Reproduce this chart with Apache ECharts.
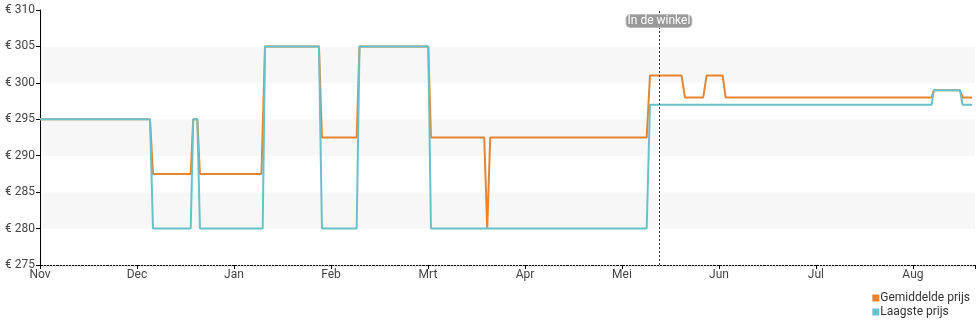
<!DOCTYPE html>
<html>
<head>
<meta charset="utf-8">
<script src="https://cdn.jsdelivr.net/npm/echarts@6/dist/echarts.min.js"></script>
<style>
  html, body { margin: 0; padding: 0; background: #fff; }
  #chart { width: 980px; height: 325px; }
</style>
</head>
<body>
<div id="chart"></div>
<script>
// x = months since 1 Nov (each month drawn the same width)
var months = ["Nov", "Dec", "Jan", "Feb", "Mrt", "Apr", "Mei", "Jun", "Jul", "Aug"];

var gemX = [0, 1.134, 1.165, 1.554, 1.580, 1.622, 1.649, 2.283, 2.320, 2.876, 2.907, 3.265, 3.294, 4.003, 4.031,
  4.580, 4.611, 4.642, 6.255, 6.289, 6.615, 6.649, 6.838, 6.873, 7.038, 7.069, 9.193, 9.216, 9.485, 9.512, 9.611];
var gemY = [295, 295, 287.5, 287.5, 295, 295, 287.5, 287.5, 305, 305, 292.5, 292.5, 305, 305, 292.5,
  292.5, 280, 292.5, 292.5, 301, 301, 298, 298, 301, 301, 298, 298, 299, 299, 298, 298];

var laagX = [0, 1.134, 1.165, 1.554, 1.580, 1.622, 1.649, 2.296, 2.320, 2.876, 2.907, 3.265, 3.294, 4.003, 4.031,
  6.255, 6.289, 9.193, 9.216, 9.485, 9.512, 9.611];
var laagY = [295, 295, 280, 280, 295, 295, 280, 280, 305, 305, 280, 280, 305, 305, 280,
  280, 297, 297, 299, 299, 297, 297];

var winkelX = 6.381;

function zip(xs, ys) {
  return xs.map(function (x, i) { return [x, ys[i]]; });
}

var chart = echarts.init(document.getElementById("chart"));
chart.setOption({
  animation: false,
  grid: { left: 40, right: 5, top: 10, bottom: 60 },
  legend: {
    orient: "vertical",
    right: 5,
    bottom: 2,
    itemWidth: 7,
    itemHeight: 7,
    itemGap: 2,
    icon: "rect",
    textStyle: { fontFamily: "Roboto", fontSize: 12, color: "#333", padding: [0, 0, 0, -4] },
    data: ["Gemiddelde prijs", "Laagste prijs"]
  },
  xAxis: {
    type: "value",
    min: 0,
    max: 9.64,
    interval: 1,
    axisLine: { lineStyle: { color: "#000", width: 1 } },
    axisTick: { length: 4, lineStyle: { color: "#000" } },
    minorTick: { show: true, splitNumber: 31, length: 2, lineStyle: { color: "#d0d0d0" } },
    splitLine: { show: false },
    axisLabel: {
      margin: 4,
      fontFamily: "Roboto",
      fontSize: 12,
      color: "#444",
      formatter: function (v) { return months[Math.round(v)] || ""; }
    }
  },
  yAxis: {
    type: "value",
    min: 275,
    max: 310,
    interval: 5,
    axisLine: { show: true, lineStyle: { color: "#000", width: 1 } },
    axisTick: { show: true, length: 4, lineStyle: { color: "#000" } },
    splitLine: { show: false },
    splitArea: { show: true, areaStyle: { color: ["#ffffff", "#f7f7f7"] } },
    axisLabel: {
      margin: 5,
      fontFamily: "Roboto",
      fontSize: 12,
      color: "#444",
      formatter: "€ {value}"
    }
  },
  series: [
    {
      name: "Gemiddelde prijs",
      type: "line",
      data: zip(gemX, gemY),
      showSymbol: false,
      symbol: "none",
      color: "#e8842f",
      lineStyle: { width: 2, color: "#e8842f" },
      markLine: {
        silent: true,
        symbol: "none",
        label: { show: false },
        lineStyle: { type: [2, 2], color: "#333", width: 1 },
        data: [{ xAxis: winkelX }]
      },
      markPoint: {
        silent: true,
        symbol: "rect",
        symbolSize: 1,
        itemStyle: { color: "rgba(0,0,0,0)" },
        data: [{ coord: [winkelX, 308.5], value: 1 }],
        label: {
          show: true,
          position: "inside",
          formatter: "In de winkel",
          fontFamily: "Roboto",
          fontSize: 12,
          color: "#fff",
          backgroundColor: "#999",
          borderColor: "#bbb",
          borderWidth: 1,
          borderRadius: 4,
          padding: [0, 1, 0, 1]
        }
      }
    },
    {
      name: "Laagste prijs",
      type: "line",
      data: zip(laagX, laagY),
      showSymbol: false,
      symbol: "none",
      color: "#69c1c9",
      lineStyle: { width: 2, color: "#69c1c9" }
    }
  ]
});
</script>
</body>
</html>
